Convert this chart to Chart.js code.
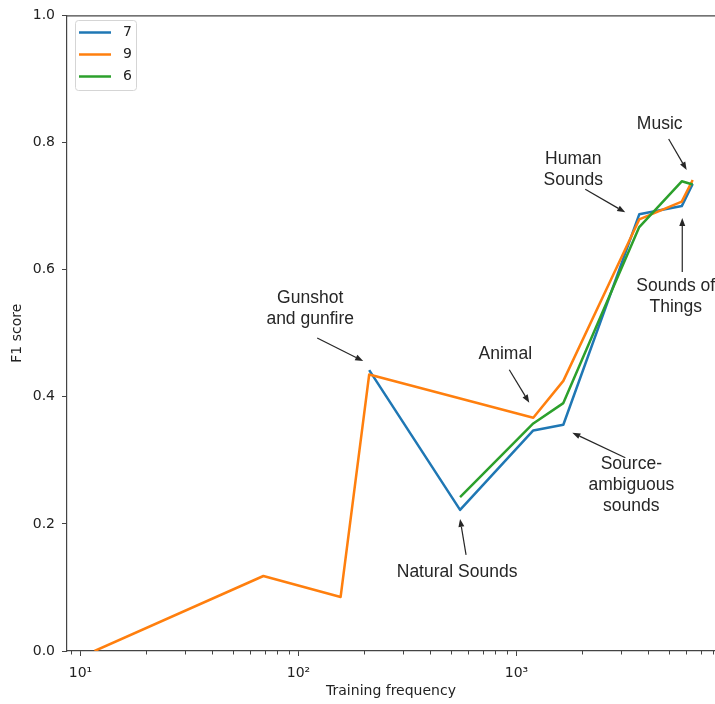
<!DOCTYPE html>
<html>
<head>
<meta charset="utf-8">
<script src="https://cdn.jsdelivr.net/npm/chart.js@4/dist/chart.umd.min.js"></script>
<style>
  body { margin: 0; background: #fff; }
  #wrap { width: 715px; height: 704px; }
</style>
</head>
<body>
<div id="wrap"><canvas id="f1-chart"></canvas></div>
<script>
// training frequency (x) and F1 score per model, null where a model has no point
const freq = [11.6, 69, 156, 211, 551, 1194, 1640, 3657, 5730, 6430]
const f1_7 = [null, null, null, 0.442, 0.222, 0.347, 0.356, 0.687, 0.700, 0.735]
const f1_9 = [0, 0.118, 0.085, 0.435, null, 0.367, 0.425, 0.679, 0.707, 0.741]
const f1_6 = [null, null, null, null, 0.242, 0.358, 0.390, 0.667, 0.739, 0.734]
const seriesNames = ['7', '9', '6']
const seriesColors = ['#1f77b4', '#ff7f0e', '#2ca02c']

const decades = [10, 100, 1000]
const decadeLabels = ['10¹', '10²', '10³']
const yTicks = [0, 0.2, 0.4, 0.6, 0.8, 1.0]

// callouts: anchored on a series point, offsets in pixels
const notes = [
    { lines: ['Gunshot', 'and gunfire'], series: 0, at: 3, text: [-59, -61], tail: [-52, -32], head: [-6, -9] },
    { lines: ['Animal'], series: 1, at: 5, text: [-28, -64], tail: [-24, -48], head: [-4, -15] },
    { lines: ['Natural Sounds'], series: 0, at: 4, text: [-3, 62], tail: [6, 45], head: [0, 9] },
    { lines: ['Source-', 'ambiguous', 'sounds'], series: 0, at: 6, text: [68, 60], tail: [62, 33], head: [9, 8] },
    { lines: ['Human', 'Sounds'], series: 0, at: 7, text: [-66, -45], tail: [-54, -25], head: [-14, -2] },
    { lines: ['Music'], series: 1, at: 9, text: [-33, -56], tail: [-24, -41], head: [-6, -10] },
    { lines: ['Sounds of', 'Things'], series: 0, at: 8, text: [-6, 91], tail: [0.5, 66], head: [0.5, 12] }
]

const allSeries = [f1_7, f1_9, f1_6]

function toPoints(values) {
    const pts = []
    values.forEach((v, i) => {
        if (v !== null) pts.push({ x: freq[i], y: v })
    })
    return pts
}

function drawArrow(ctx, x0, y0, x1, y1) {
    const ang = Math.atan2(y1 - y0, x1 - x0)
    const len = 8, half = 3
    const bx = x1 - len * Math.cos(ang), by = y1 - len * Math.sin(ang)
    ctx.beginPath()
    ctx.moveTo(x0, y0)
    ctx.lineTo(bx, by)
    ctx.stroke()
    ctx.beginPath()
    ctx.moveTo(x1, y1)
    ctx.lineTo(bx + half * Math.sin(ang), by - half * Math.cos(ang))
    ctx.lineTo(bx - half * Math.sin(ang), by + half * Math.cos(ang))
    ctx.closePath()
    ctx.fill()
}

const extras = {
    id: 'extras',
    afterDraw(chart) {
        const ctx = chart.ctx
        const area = chart.chartArea
        const xs = chart.scales.x
        const ys = chart.scales.y
        ctx.save()

        // top spine
        ctx.strokeStyle = '#444'
        ctx.lineWidth = 1.2
        ctx.beginPath()
        ctx.moveTo(area.left, area.top + 0.5)
        ctx.lineTo(area.right, area.top + 0.5)
        ctx.stroke()

        // short minor ticks on the log axis
        ctx.lineWidth = 1
        xs.ticks.forEach(t => {
            if (decades.includes(t.value)) return
            const px = Math.round(xs.getPixelForValue(t.value)) + 0.5
            ctx.beginPath()
            ctx.moveTo(px, area.bottom)
            ctx.lineTo(px, area.bottom + 3.5)
            ctx.stroke()
        })

        // callouts
        ctx.font = '17.5px "Liberation Sans", Arial, sans-serif'
        ctx.textAlign = 'center'
        ctx.textBaseline = 'middle'
        ctx.fillStyle = '#262626'
        ctx.strokeStyle = '#262626'
        ctx.lineWidth = 1.2
        const lh = 21
        notes.forEach(n => {
            const ax = xs.getPixelForValue(freq[n.at])
            const ay = ys.getPixelForValue(allSeries[n.series][n.at])
            const cx = ax + n.text[0], cy = ay + n.text[1]
            n.lines.forEach((line, i) => {
                ctx.fillText(line, cx, cy + (i - (n.lines.length - 1) / 2) * lh)
            })
            drawArrow(ctx, ax + n.tail[0], ay + n.tail[1], ax + n.head[0], ay + n.head[1])
        })

        // legend
        const lx = 75, ly = 20, lw = 61, lhgt = 70
        ctx.beginPath()
        ctx.roundRect(lx + 0.5, ly + 0.5, lw, lhgt, 3)
        ctx.fillStyle = 'rgba(255,255,255,0.8)'
        ctx.fill()
        ctx.strokeStyle = '#d5d5d5'
        ctx.lineWidth = 1
        ctx.stroke()
        ctx.font = '14px "DejaVu Sans", sans-serif'
        ctx.textAlign = 'left'
        chart.data.datasets.forEach((ds, i) => {
            const y = 32.5 + i * 22
            ctx.strokeStyle = ds.borderColor
            ctx.lineWidth = 2.5
            ctx.beginPath()
            ctx.moveTo(79, y)
            ctx.lineTo(111, y)
            ctx.stroke()
            ctx.fillStyle = '#222'
            ctx.fillText(ds.label, 123, y)
        })
        ctx.restore()
    }
}

Chart.defaults.font.family = '"DejaVu Sans", sans-serif'
Chart.defaults.font.size = 14
Chart.defaults.color = '#222'

const ctx = document.getElementById('f1-chart').getContext('2d')
const f1_chart = new Chart(ctx, {
    type: 'line',
    data: {
        datasets: allSeries.map((s, i) => ({
            label: seriesNames[i],
            data: toPoints(s),
            borderColor: seriesColors[i],
            backgroundColor: seriesColors[i],
            borderWidth: 2.5,
            borderJoinStyle: 'round',
            pointRadius: 0,
            tension: 0,
            order: 2 - i
        }))
    },
    options: {
        responsive: true,
        maintainAspectRatio: false,
        animation: false,
        layout: { padding: { left: 0, top: 13, right: 0, bottom: 0 } },
        plugins: {
            legend: { display: false },
            tooltip: { enabled: false }
        },
        scales: {
            x: {
                type: 'logarithmic',
                min: 8.67,
                max: 8140,
                afterBuildTicks: scale => {
                    const vals = [9]
                    for (const d of decades) {
                        for (let k = 1; k <= 9; k++) {
                            if (d * k <= 8000) vals.push(d * k)
                        }
                    }
                    scale.ticks = vals.map(v => ({ value: v }))
                },
                afterFit: scale => {
                    scale.height = 53
                    scale.paddingLeft = 0
                    scale.paddingRight = 0
                },
                ticks: {
                    autoSkip: false,
                    maxRotation: 0,
                    padding: 9,
                    callback: value => {
                        const i = decades.indexOf(value)
                        return i >= 0 ? decadeLabels[i] : ''
                    }
                },
                grid: {
                    drawOnChartArea: false,
                    drawTicks: true,
                    tickLength: 5,
                    tickColor: c => decades.includes(c.tick.value) ? '#444' : 'rgba(0,0,0,0)'
                },
                border: { display: true, color: '#444', width: 1.2 },
                title: { display: true, text: 'Training frequency', padding: { top: 4, bottom: 4 } }
            },
            y: {
                min: 0,
                max: 1,
                afterBuildTicks: scale => {
                    scale.ticks = yTicks.map(v => ({ value: v }))
                },
                afterFit: scale => { scale.width = 67 },
                ticks: {
                    padding: 7,
                    callback: value => value.toFixed(1)
                },
                grid: {
                    drawOnChartArea: false,
                    drawTicks: true,
                    tickLength: 5,
                    tickColor: '#444'
                },
                border: { display: true, color: '#444', width: 1.2 },
                title: { display: true, text: 'F1 score', padding: { top: 9, bottom: 4 } }
            }
        }
    },
    plugins: [extras]
})
</script>
</body>
</html>
